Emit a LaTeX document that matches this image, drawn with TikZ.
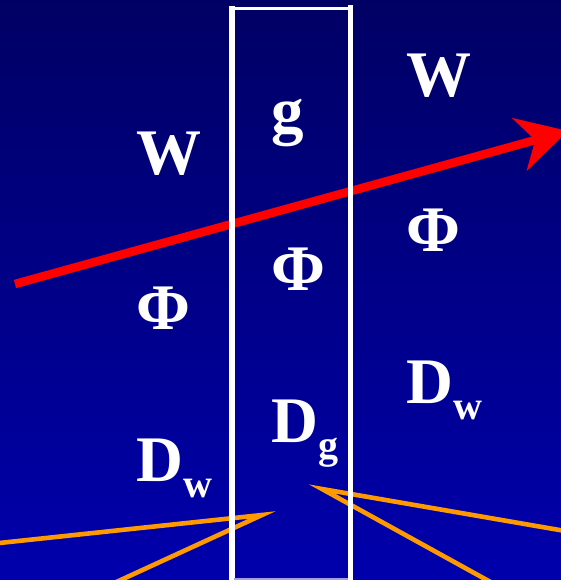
\documentclass[tikz,border=0pt]{standalone}
\usepackage{fontspec}
\setmainfont{Liberation Serif}
\usetikzlibrary{arrows.meta}
\definecolor{bgtop}{RGB}{0,0,100}
\definecolor{bgbot}{RGB}{0,0,172}
\definecolor{beamred}{RGB}{255,0,0}
\definecolor{rayorange}{RGB}{255,153,0}
\definecolor{lav}{RGB}{160,160,224}
\newcommand\lowsub[1]{\raisebox{-16pt}{\fontsize{40}{40}\selectfont #1}}
\begin{document}
\begin{tikzpicture}[x=1pt,y=-1pt,
  lbl/.style={text=white,font=\fontsize{65}{65}\selectfont\bfseries,inner sep=0pt,anchor=base west},
  ray/.style={draw=rayorange,line width=4.6pt,line join=miter,miter limit=20},
  beam/.style={draw=beamred,line width=8.5pt,-{Stealth[length=50pt,width=54pt,inset=16pt]}},
  boxline/.style={draw=white}]
\fill[top color=bgtop,bottom color=bgbot] (0,0) rectangle (561,580);
\useasboundingbox (0,0) rectangle (561,580);
\clip (0,0) rectangle (561,580);
% orange rays
\coordinate (lv) at (262,515);
\coordinate (la) at (-10,544);
\coordinate (lb) at (99,590);
\coordinate (rv) at (322,489);
\coordinate (ra) at (571,532);
\coordinate (rb) at (505,590);
\draw[ray] (la) -- (lv) -- (lb);
\draw[ray] (ra) -- (rv) -- (rb);
% red beam
\coordinate (bs) at (15,284);
\coordinate (be) at (568,131);
\draw[beam] (bs) -- (be);
% labels
\node[lbl] (w1) at (136,174) {W};
\node[lbl] (g1) at (271,133) {g};
\node[lbl] (w2) at (406,97) {W};
\node[lbl] (p1) at (136,329) {Φ};
\node[lbl] (p2) at (271,290) {Φ};
\node[lbl] (p3) at (406,251) {Φ};
\node[lbl] (d1) at (136,481) {D\lowsub{w}};
\node[lbl] (d2) at (271,442) {D\lowsub{g}};
\node[lbl] (d3) at (406,403) {D\lowsub{w}};
% white slab
\coordinate (lt) at (231.5,6);
\coordinate (lbot) at (231.5,582);
\coordinate (rt) at (350.5,5.5);
\coordinate (rbot) at (350.5,582);
\coordinate (tl) at (233,8.5);
\coordinate (tr) at (348,8.5);
\coordinate (bl) at (234,579);
\coordinate (br) at (348,579);
\draw[boxline,line width=6pt] (lt) -- (lbot);
\draw[boxline,line width=5pt] (rt) -- (rbot);
\draw[boxline,line width=3pt] (tl) -- (tr);
\draw[draw=lav,line width=2pt] (bl) -- (br);
\end{tikzpicture}
\end{document}
